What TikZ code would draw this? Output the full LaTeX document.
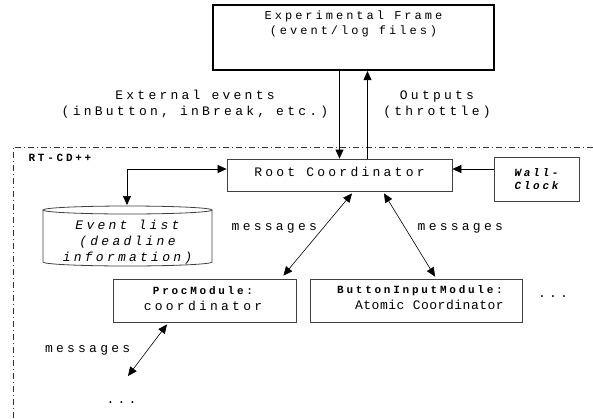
\documentclass[tikz,border=0pt]{standalone}
\usepackage{fontspec}
\usetikzlibrary{arrows.meta}
\newfontfamily\courwide[LetterSpace=25]{Liberation Mono}
\newfontfamily\courplain[LetterSpace=4]{Liberation Mono}
\begin{document}
\begin{tikzpicture}[x=1pt,y=-1pt,
  >={Triangle[length=9pt,width=8pt]},
  every node/.style={inner sep=0pt},
  box/.style={draw=black!75,line width=0.8pt},
  wide/.style={font=\fontsize{13}{16}\selectfont\courwide},
  tag/.style={font=\fontsize{11}{13}\selectfont\courwide\bfseries},
  link/.style={line width=0.6pt}]
\useasboundingbox (0,0) rectangle (593,418);
% Experimental frame on top
\node[draw,line width=2.2pt,minimum width=281pt,minimum height=65pt] (frame) at (353.5,37.5) {};
\node[font=\fontsize{12}{15}\selectfont\courwide,align=center,anchor=north] (frametext) at (353.5,11)
  {Experimental Frame\\(event/log files)};
% Boundary of the RT-CD++ part
\draw[black!80,line width=0.7pt,dash pattern=on 6pt off 3pt on 1pt off 3pt] (593,147) -- (13,147) -- (13,418);
\node[tag] (rtcd) at (60,158) {RT-CD++};
% Root coordinator and wall clock
\node[box,minimum width=225pt,minimum height=32pt] (root) at (339.5,175) {};
\node[wide] (roottext) at (339.5,172) {Root Coordinator};
\node[box,minimum width=85pt,minimum height=44pt,font=\fontsize{11}{13}\selectfont\courwide\bfseries\itshape,align=center] (wall) at (536.5,179) {Wall-\\Clock};
% Event list (drawn as a cylinder)
\node[wide,font=\fontsize{13}{16}\selectfont\courwide\itshape,align=center] (evlist) at (127.5,242) {Event list\\(deadline\\information)};
\draw[box] (43,210) -- (43,262) arc[start angle=180,end angle=360,x radius=84.5pt,y radius=4pt] -- (212,210);
\draw[box] (127.5,210) ellipse[x radius=84.5pt,y radius=4pt];
\coordinate (evtop) at (127,205);
% Modules below the root
\node[box,minimum width=183pt,minimum height=43pt] (proc) at (204.5,300.5) {};
\node[tag] (proctag) at (203,291) {ProcModule:};
\node[wide] (proctext) at (203,306) {coordinator};
\node[box,minimum width=212pt,minimum height=43pt] (button) at (416,300.5) {};
\node[tag,anchor=east] (buttontag) at (503,291) {ButtonInputModule:};
\node[font=\fontsize{13}{16}\selectfont\courplain,anchor=east] (buttontext) at (504,305) {Atomic Coordinator};
\node[wide] (moredots) at (553,297) {...};
\node[wide] (lowdots) at (121.5,403) {...};
\coordinate (lowend) at (128,376);
% Events in and outputs out
\draw[link,->] (frame.south -| root.north) -- (root.north);
\draw[link,->] ([xshift=28pt]root.north) -- ([xshift=28pt]root.north |- frame.south);
\node[wide,align=center] (extin) at (195,104) {External events\\(inButton, inBreak, etc.)};
\node[wide,align=center] (outs) at (437,104) {Outputs\\(throttle)};
% Clock and event list
\draw[link,->] (wall.west |- 0,169) -- (root.east |- 0,169);
\draw[link,<->] (root.west |- 0,169) -| (evtop);
% Messages
\draw[link,<->] ([xshift=12.5pt,yshift=-2pt]root.south) -- node[wide,pos=0.42,left=6pt] {messages} ([xshift=-13pt,yshift=3pt]proc.north east);
\draw[link,<->] ([xshift=44.5pt,yshift=-2pt]root.south) -- node[wide,pos=0.42,right=12pt] {messages} ([xshift=19pt,yshift=2pt]button.north);
\draw[link,<->] ([xshift=-37.5pt,yshift=-2pt]proc.south) -- node[wide,left=17pt] {messages} (lowend);
\end{tikzpicture}
\end{document}
